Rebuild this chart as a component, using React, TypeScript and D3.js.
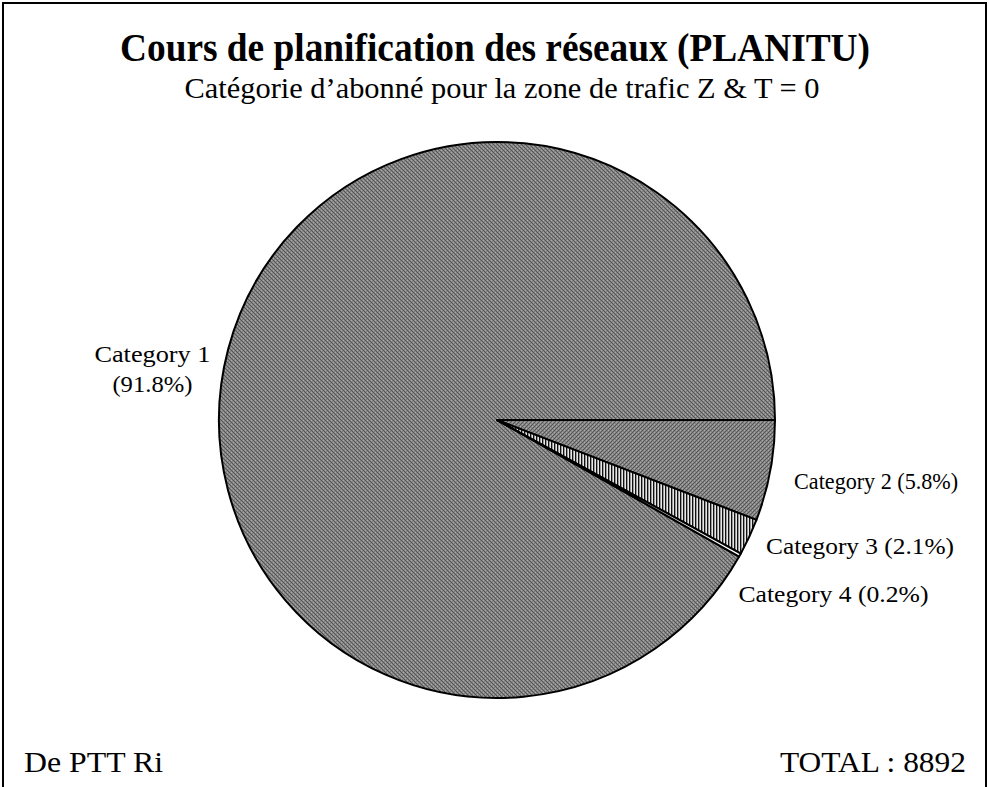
import React from "react";
import * as d3 from "d3";

const categories = ["Category 1", "Category 2", "Category 3", "Category 4"];
const values = [8165, 520, 189, 18];
const titleText = "Cours de planification des réseaux  (PLANITU)";
const subtitleText = "Catégorie d’abonné pour la zone de trafic  Z & T = 0";
const footerLeft = "De PTT Ri";
const footerRight = "TOTAL : 8892";

const W = 989;
const H = 787;
const cx = 497;
const cy = 420;
const R = 278;
const FONT = "'Liberation Serif', 'Times New Roman', serif";
const labelLengths = [null, 164, 188, 190];

export default function App() {
  const total = d3.sum(values);
  const firstShare = values[0] / total;
  const start = Math.PI / 2 + 2 * Math.PI * (1 - firstShare);
  const pie = d3
    .pie<number>()
    .sort(null)
    .value((d) => d)
    .startAngle(start)
    .endAngle(start + 2 * Math.PI);
  const arcs = pie(values);
  const arc = d3.arc<d3.PieArcDatum<number>>().innerRadius(0).outerRadius(R);
  const fills = ["url(#p1)", "url(#p2)", "url(#p3)", "url(#p4)"];
  const fmt = (v: number) => `(${((v / total) * 100).toFixed(1)}%)`;

  const labels = arcs.map((a, i) => {
    const mid = (a.startAngle + a.endAngle) / 2;
    const ang = mid - Math.PI / 2;
    if (i === 0) {
      const rr = R + 70;
      return { x: cx + rr * Math.cos(ang) - 8, y: cy + rr * Math.sin(ang) + 30, two: true };
    }
    const rr = R + 12;
    return { x: cx + rr * Math.cos(ang), y: cy + rr * Math.sin(ang) + 12, two: false };
  });
  for (let i = 2; i < labels.length; i++) {
    if (labels[i].y - labels[i - 1].y < 46) labels[i].y = labels[i - 1].y + 46;
  }
  labels[1].x += 12;
  labels[1].y += 4;
  labels[2].x += 6;
  labels[3].x -= 12;
  labels[3].y += 2;

  return (
    <svg width={W} height={H} style={{ position: "absolute", left: 0, top: 0 }}>
      <defs>
        <pattern id="p1" width="4" height="4" patternUnits="userSpaceOnUse">
          <rect width="4" height="4" fill="#858585" />
          <rect x="0" y="0" width="1" height="1" fill="#555" />
          <rect x="1" y="1" width="1" height="1" fill="#555" />
          <rect x="2" y="2" width="1" height="1" fill="#555" />
          <rect x="3" y="3" width="1" height="1" fill="#555" />
          <rect x="2" y="0" width="1" height="1" fill="#aaa" />
          <rect x="0" y="2" width="1" height="1" fill="#aaa" />
        </pattern>
        <pattern id="p2" width="4" height="4" patternUnits="userSpaceOnUse">
          <rect width="4" height="4" fill="#858585" />
          <rect x="3" y="0" width="1" height="1" fill="#555" />
          <rect x="2" y="1" width="1" height="1" fill="#555" />
          <rect x="1" y="2" width="1" height="1" fill="#555" />
          <rect x="0" y="3" width="1" height="1" fill="#555" />
          <rect x="1" y="0" width="1" height="1" fill="#aaa" />
          <rect x="3" y="2" width="1" height="1" fill="#aaa" />
        </pattern>
        <pattern id="p3" width="3" height="3" patternUnits="userSpaceOnUse">
          <rect width="3" height="3" fill="#e8e8e8" />
          <rect x="0" y="0" width="1" height="3" fill="#111" />
          <rect x="1" y="0" width="1" height="3" fill="#999" />
        </pattern>
        <pattern id="p4" width="3" height="3" patternUnits="userSpaceOnUse">
          <rect width="3" height="3" fill="#ffffff" />
        </pattern>
      </defs>
      <rect x={3} y={3} width={983} height={H + 5} fill="#fff" stroke="#000" strokeWidth={2} />
      <text x={495} y={61} textAnchor="middle" fontFamily={FONT} fontWeight="bold" fontSize={41}
        textLength={750} lengthAdjust="spacingAndGlyphs" fill="#000">
        {titleText}
      </text>
      <text x={502} y={98} textAnchor="middle" fontFamily={FONT} fontSize={30}
        textLength={635} lengthAdjust="spacingAndGlyphs" fill="#000">
        {subtitleText}
      </text>
      <g>
        {arcs.map((a, i) => (
          <path
            key={categories[i]}
            d={arc(a) || ""}
            transform={`translate(${cx},${cy})`}
            fill={fills[i]}
            stroke="#000"
            strokeWidth={2}
            strokeLinejoin="round"
          />
        ))}
      </g>
      {labels.map((l, i) =>
        l.two ? (
          <text key={i} textAnchor="middle" fontFamily={FONT} fontSize={23} fill="#000">
            <tspan x={l.x} y={l.y} textLength={116} lengthAdjust="spacingAndGlyphs">{categories[i]}</tspan>
            <tspan x={l.x} y={l.y + 30} textLength={80} lengthAdjust="spacingAndGlyphs">{fmt(values[i])}</tspan>
          </text>
        ) : (
          <text key={i} x={l.x} y={l.y} textAnchor="start" fontFamily={FONT} fontSize={23}
            textLength={labelLengths[i] as number} lengthAdjust="spacingAndGlyphs" fill="#000">
            {`${categories[i]} ${fmt(values[i])}`}
          </text>
        )
      )}
      <text x={24} y={772} fontFamily={FONT} fontSize={30} textLength={139} lengthAdjust="spacingAndGlyphs" fill="#000">
        {footerLeft}
      </text>
      <text x={780} y={772} fontFamily={FONT} fontSize={30} textLength={186} lengthAdjust="spacingAndGlyphs" fill="#000">
        {footerRight}
      </text>
    </svg>
  );
}
